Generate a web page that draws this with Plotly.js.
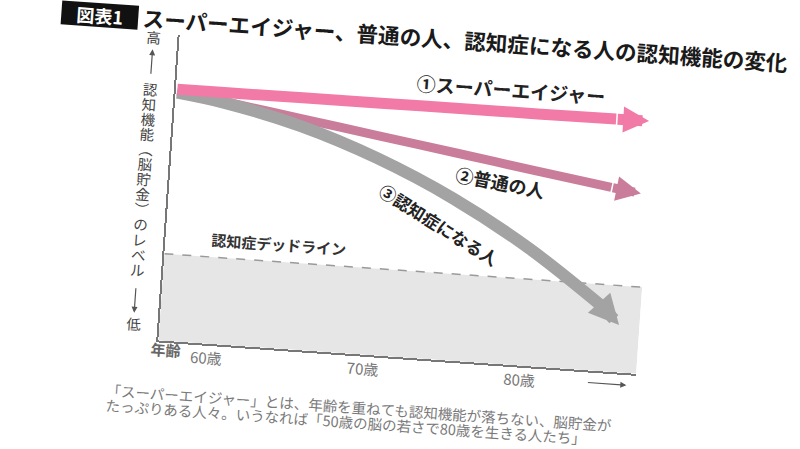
<!DOCTYPE html>
<html>
<head>
<meta charset="utf-8">
<script src="https://cdn.plot.ly/plotly-3.0.1.min.js"></script>
<style>
  html, body { margin: 0; padding: 0; background: #fff; overflow: hidden; }
  #chart { width: 800px; height: 449px; transform: rotate(4deg); transform-origin: 400px 224px; }
</style>
</head>
<body>
<div id="chart"></div>
<script>
// values (age in years, level 0-100)
var ages = [57, 60, 65, 70, 75, 80, 85];
var superAger = [82.3, 82.3, 82.4, 82.4, 82.5, 82.5, 82.6];
var normal = [81.7, 79.4, 75.6, 71.7, 67.9, 64.0, 60.2];
var dementia = [81.2, 79.0, 73.1, 64.4, 53.0, 38.6, 21.0];
var tipAges = [87.1, 86.9, 86.1];
var tipLevels = [82.7, 58.9, 15.5];
var deadlineAges = [56.9, 87.4];
var deadlineLevel = [28.4, 28.4];
var tickAges = [60, 70, 80];
var tickLabels = ["60歳", "70歳", "80歳"];
var seriesNames = ["①スーパーエイジャー", "②普通の人", "③認知症になる人"];
var levelLabel = "認知機能︵脳貯金︶のレベル";

var FONT = '"Noto Sans CJK JP", "Noto Sans", sans-serif';

// plot area in pixels: x 167..646, y 51..357
function px(x) { return (x - 167) / 479; }
function py(y) { return (357 - y) / 306; }

var colors = ["#f27aa7", "#c97d9b", "#a3a3a3"];
var widths = [11, 9, 12];
var heads = [0.47, 0.55, 0.5];
var series = [superAger, normal, dementia];

var deadline = {
    x: deadlineAges,
    y: deadlineLevel,
    mode: 'lines',
    type: 'scatter',
    fill: 'tozeroy',
    fillcolor: '#e6e6e6',
    line: {color: '#9a9a9a', width: 1.5, dash: 'dash'},
    hoverinfo: 'skip'
};

var data = [deadline];
// draw order: normal, dementia, super ager on top
var order = [1, 2, 0];
for (var k = 0; k < order.length; k++) {
    var i = order[k];
    data.push({
        x: ages,
        y: series[i],
        mode: 'lines',
        type: 'scatter',
        line: {color: colors[i], width: widths[i], shape: 'spline'},
        hoverinfo: 'skip'
    });
}

var annotations = [];

// arrow heads at the ends of the three curves
for (var i = 0; i < series.length; i++) {
    annotations.push({
        x: tipAges[i], y: tipLevels[i], xref: 'x', yref: 'y',
        ax: ages[ages.length - 1], ay: series[i][ages.length - 1], axref: 'x', ayref: 'y',
        text: '', showarrow: true, arrowhead: 2,
        arrowsize: heads[i], arrowwidth: widths[i], arrowcolor: colors[i]
    });
}

function label(x, y, text, size, color, extra) {
    var a = {x: px(x), y: py(y), xref: 'paper', yref: 'paper', xanchor: 'center', yanchor: 'middle',
        text: text, showarrow: false, font: {family: FONT, size: size, color: color}};
    for (var key in extra) { a[key] = extra[key]; }
    return a;
}

// curve labels
annotations.push({x: 78.2, y: 90, xref: 'x', yref: 'y', text: seriesNames[0], showarrow: false,
    font: {family: FONT, size: 19, color: '#222', weight: 'bold'}});
annotations.push({x: 77.9, y: 59.5, xref: 'x', yref: 'y', text: seriesNames[1], showarrow: false,
    textangle: 7, font: {family: FONT, size: 18, color: '#222', weight: 'bold'}});
annotations.push({x: 74.2, y: 44.4, xref: 'x', yref: 'y', text: seriesNames[2], showarrow: false,
    textangle: 28, font: {family: FONT, size: 17, color: '#222', weight: 'bold'}});
annotations.push({x: 64.1, y: 34.2, xref: 'x', yref: 'y', text: '認知症デッドライン', showarrow: false,
    font: {family: FONT, size: 15, color: '#333', weight: 'bold'}});

// figure number and title
annotations.push(label(86, 37, '図表1', 18, '#fff',
    {bgcolor: '#111', width: 74, height: 21, borderpad: 1,
     font: {family: FONT, size: 18, color: '#fff', weight: 'bold'}}));
annotations.push(label(127, 36, 'スーパーエイジャー、普通の人、認知症になる人の認知機能の変化', 21.6, '#1a1a1a',
    {xanchor: 'left', font: {family: FONT, size: 21.6, color: '#1a1a1a', weight: 'bold'}}));

// vertical y label
var chars = Array.from(levelLabel);
for (var j = 0; j < chars.length; j++) {
    annotations.push(label(141, 106 + j * 15.1, chars[j], 14.5, '#444'));
}
annotations.push(label(141, 55, '高', 14.5, '#444'));
annotations.push(label(141, 341, '低', 14.5, '#444'));
annotations.push({x: px(141), y: py(67), xref: 'paper', yref: 'paper', text: '', showarrow: true,
    ax: 0, ay: 26, arrowhead: 2, arrowsize: 1, arrowwidth: 1.2, arrowcolor: '#555'});
annotations.push({x: px(141), y: py(331), xref: 'paper', yref: 'paper', text: '', showarrow: true,
    ax: 0, ay: -26, arrowhead: 2, arrowsize: 1, arrowwidth: 1.2, arrowcolor: '#555'});

// x axis name and arrow
annotations.push(label(175, 366, '年齢', 15, '#666',
    {font: {family: FONT, size: 15, color: '#666', weight: 'bold'}}));
annotations.push({x: px(637), y: py(369), xref: 'paper', yref: 'paper', text: '', showarrow: true,
    ax: -40, ay: 0, arrowhead: 2, arrowsize: 1, arrowwidth: 1.2, arrowcolor: '#555'});

// caption
annotations.push(label(117, 409, '「スーパーエイジャー」とは、年齢を重ねても認知機能が落ちない、脳貯金が',
    14.5, '#7a7a7a', {xanchor: 'left'}));
annotations.push(label(117, 424, 'たっぷりある人々。いうなれば「50歳の脳の若さで80歳を生きる人たち」',
    14.5, '#7a7a7a', {xanchor: 'left'}));

var layout = {
    width: 800,
    height: 449,
    margin: {l: 167, r: 154, t: 51, b: 92, pad: 0},
    paper_bgcolor: '#fff',
    plot_bgcolor: '#fff',
    showlegend: false,
    font: {family: FONT},
    xaxis: {
        range: [deadlineAges[0], deadlineAges[1]],
        showgrid: false,
        zeroline: false,
        showline: true,
        linecolor: '#777',
        linewidth: 2,
        ticks: '',
        tickvals: tickAges,
        ticktext: tickLabels,
        tickfont: {family: FONT, size: 15, color: '#777'},
        fixedrange: true
    },
    yaxis: {
        range: [0, 100],
        showgrid: false,
        zeroline: false,
        showline: true,
        linecolor: '#777',
        linewidth: 2,
        ticks: '',
        showticklabels: false,
        fixedrange: true
    },
    annotations: annotations
};

Plotly.newPlot('chart', data, layout, {displayModeBar: false, staticPlot: true});
</script>
</body>
</html>
